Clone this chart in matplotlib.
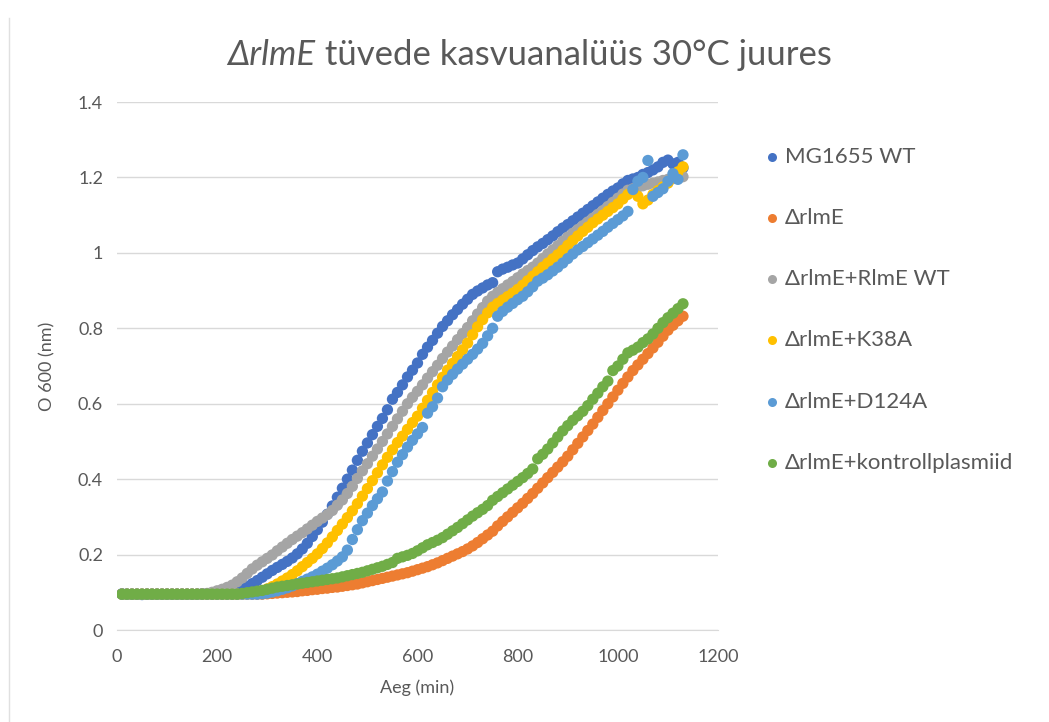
import matplotlib
matplotlib.use("Agg")
import matplotlib.pyplot as plt
from matplotlib.lines import Line2D

# Data: OD600 readings every 10 min
aeg = [10, 20, 30, 40, 50, 60, 70, 80, 90, 100,
       110, 120, 130, 140, 150, 160, 170, 180, 190, 200,
       210, 220, 230, 240, 250, 260, 270, 280, 290, 300,
       310, 320, 330, 340, 350, 360, 370, 380, 390, 400,
       410, 420, 430, 440, 450, 460, 470, 480, 490, 500,
       510, 520, 530, 540, 550, 560, 570, 580, 590, 600,
       610, 620, 630, 640, 650, 660, 670, 680, 690, 700,
       710, 720, 730, 740, 750, 760, 770, 780, 790, 800,
       810, 820, 830, 840, 850, 860, 870, 880, 890, 900,
       910, 920, 930, 940, 950, 960, 970, 980, 990, 1000,
       1010, 1020, 1030, 1040, 1050, 1060, 1070, 1080, 1090, 1100,
       1110, 1120, 1130]

mg1655_wt = [0.096, 0.095, 0.095, 0.095, 0.094, 0.095, 0.095, 0.095, 0.095, 0.095,
             0.095, 0.095, 0.095, 0.095, 0.095, 0.095, 0.096, 0.096, 0.096, 0.096,
             0.097, 0.099, 0.101, 0.104, 0.108, 0.115, 0.123, 0.131, 0.140, 0.149,
             0.158, 0.166, 0.174, 0.182, 0.191, 0.202, 0.215, 0.230, 0.248, 0.266,
             0.286, 0.307, 0.329, 0.352, 0.376, 0.400, 0.424, 0.450, 0.474, 0.496,
             0.518, 0.540, 0.561, 0.584, 0.612, 0.630, 0.650, 0.671, 0.689, 0.708,
             0.731, 0.750, 0.768, 0.787, 0.805, 0.820, 0.836, 0.850, 0.864, 0.877,
             0.890, 0.899, 0.907, 0.915, 0.921, 0.950, 0.957, 0.962, 0.968, 0.973,
             0.984, 0.995, 1.006, 1.016, 1.025, 1.035, 1.045, 1.056, 1.066, 1.075,
             1.085, 1.095, 1.105, 1.115, 1.125, 1.135, 1.145, 1.155, 1.164, 1.172,
             1.183, 1.192, 1.196, 1.200, 1.208, 1.213, 1.220, 1.228, 1.240, 1.246,
             1.236, 1.240, 1.225]

rlme = [0.095, 0.095, 0.095, 0.095, 0.095, 0.095, 0.095, 0.095, 0.095, 0.095,
        0.095, 0.095, 0.095, 0.095, 0.095, 0.095, 0.095, 0.095, 0.095, 0.095,
        0.095, 0.095, 0.095, 0.095, 0.095, 0.095, 0.095, 0.095, 0.095, 0.096,
        0.097, 0.098, 0.099, 0.100, 0.101, 0.102, 0.104, 0.105, 0.107, 0.108,
        0.110, 0.111, 0.113, 0.114, 0.116, 0.118, 0.120, 0.122, 0.125, 0.128,
        0.131, 0.134, 0.137, 0.140, 0.143, 0.146, 0.149, 0.152, 0.156, 0.160,
        0.164, 0.168, 0.173, 0.178, 0.184, 0.190, 0.196, 0.202, 0.208, 0.215,
        0.223, 0.232, 0.242, 0.252, 0.262, 0.276, 0.288, 0.300, 0.312, 0.324,
        0.336, 0.349, 0.362, 0.376, 0.390, 0.404, 0.418, 0.432, 0.446, 0.461,
        0.478, 0.495, 0.512, 0.529, 0.546, 0.564, 0.582, 0.600, 0.618, 0.636,
        0.654, 0.671, 0.688, 0.703, 0.718, 0.733, 0.748, 0.763, 0.779, 0.795,
        0.808, 0.820, 0.832]

rlme_wt = [0.095, 0.095, 0.095, 0.095, 0.095, 0.095, 0.095, 0.095, 0.095, 0.095,
           0.095, 0.095, 0.095, 0.095, 0.095, 0.095, 0.096, 0.097, 0.100, 0.104,
           0.108, 0.113, 0.119, 0.128, 0.138, 0.150, 0.162, 0.172, 0.181, 0.190,
           0.199, 0.210, 0.220, 0.230, 0.240, 0.249, 0.258, 0.268, 0.278, 0.288,
           0.297, 0.306, 0.317, 0.331, 0.345, 0.362, 0.381, 0.402, 0.422, 0.441,
           0.461, 0.480, 0.500, 0.520, 0.540, 0.560, 0.580, 0.600, 0.617, 0.633,
           0.650, 0.668, 0.685, 0.702, 0.720, 0.737, 0.753, 0.770, 0.786, 0.802,
           0.820, 0.838, 0.855, 0.872, 0.885, 0.895, 0.905, 0.915, 0.924, 0.934,
           0.944, 0.953, 0.962, 0.973, 0.985, 0.997, 1.008, 1.019, 1.031, 1.042,
           1.052, 1.062, 1.072, 1.082, 1.092, 1.102, 1.112, 1.123, 1.134, 1.145,
           1.156, 1.166, 1.170, 1.174, 1.178, 1.182, 1.185, 1.188, 1.192, 1.195,
           1.197, 1.200, 1.202]

k38a = [0.095, 0.095, 0.095, 0.095, 0.095, 0.095, 0.095, 0.095, 0.095, 0.095,
        0.095, 0.095, 0.095, 0.095, 0.095, 0.095, 0.095, 0.095, 0.095, 0.095,
        0.095, 0.095, 0.095, 0.095, 0.095, 0.096, 0.097, 0.100, 0.104, 0.109,
        0.115, 0.122, 0.130, 0.138, 0.147, 0.157, 0.168, 0.179, 0.190, 0.202,
        0.216, 0.231, 0.247, 0.264, 0.281, 0.298, 0.316, 0.335, 0.355, 0.375,
        0.396, 0.417, 0.438, 0.458, 0.478, 0.497, 0.514, 0.532, 0.550, 0.567,
        0.588, 0.609, 0.630, 0.650, 0.670, 0.689, 0.707, 0.725, 0.743, 0.761,
        0.783, 0.804, 0.823, 0.841, 0.856, 0.866, 0.875, 0.884, 0.893, 0.903,
        0.914, 0.926, 0.938, 0.950, 0.962, 0.973, 0.984, 0.995, 1.007, 1.020,
        1.033, 1.045, 1.057, 1.068, 1.080, 1.090, 1.100, 1.110, 1.120, 1.130,
        1.143, 1.155, 1.165, 1.150, 1.130, 1.140, 1.155, 1.165, 1.175, 1.185,
        1.200, 1.215, 1.228]

d124a = [0.095, 0.095, 0.095, 0.095, 0.095, 0.095, 0.095, 0.095, 0.095, 0.095,
         0.095, 0.095, 0.095, 0.095, 0.095, 0.095, 0.095, 0.095, 0.095, 0.095,
         0.095, 0.095, 0.095, 0.095, 0.095, 0.095, 0.095, 0.095, 0.096, 0.098,
         0.101, 0.104, 0.108, 0.112, 0.117, 0.123, 0.129, 0.135, 0.141, 0.148,
         0.156, 0.164, 0.173, 0.183, 0.194, 0.212, 0.240, 0.266, 0.290, 0.310,
         0.330, 0.348, 0.366, 0.395, 0.420, 0.445, 0.465, 0.485, 0.503, 0.520,
         0.537, 0.575, 0.592, 0.615, 0.645, 0.663, 0.678, 0.692, 0.705, 0.718,
         0.731, 0.745, 0.760, 0.780, 0.800, 0.832, 0.845, 0.856, 0.866, 0.876,
         0.885, 0.897, 0.910, 0.925, 0.933, 0.942, 0.952, 0.962, 0.973, 0.985,
         0.997, 1.008, 1.017, 1.027, 1.037, 1.047, 1.057, 1.068, 1.078, 1.088,
         1.098, 1.110, 1.168, 1.190, 1.200, 1.245, 1.150, 1.160, 1.170, 1.190,
         1.210, 1.195, 1.260]

kontroll = [0.095, 0.095, 0.095, 0.095, 0.095, 0.095, 0.095, 0.095, 0.095, 0.095,
            0.095, 0.095, 0.095, 0.095, 0.095, 0.095, 0.095, 0.095, 0.095, 0.095,
            0.095, 0.095, 0.095, 0.095, 0.097, 0.099, 0.101, 0.103, 0.105, 0.108,
            0.111, 0.114, 0.116, 0.118, 0.120, 0.122, 0.124, 0.126, 0.128, 0.130,
            0.132, 0.134, 0.136, 0.138, 0.141, 0.144, 0.147, 0.150, 0.153, 0.157,
            0.161, 0.165, 0.169, 0.174, 0.179, 0.190, 0.194, 0.198, 0.203, 0.210,
            0.218, 0.226, 0.232, 0.238, 0.245, 0.254, 0.263, 0.272, 0.282, 0.292,
            0.302, 0.311, 0.320, 0.330, 0.344, 0.354, 0.364, 0.374, 0.384, 0.394,
            0.404, 0.415, 0.427, 0.454, 0.466, 0.480, 0.496, 0.512, 0.528, 0.542,
            0.556, 0.568, 0.580, 0.595, 0.612, 0.628, 0.645, 0.660, 0.688, 0.700,
            0.718, 0.735, 0.742, 0.750, 0.762, 0.772, 0.785, 0.800, 0.815, 0.828,
            0.840, 0.852, 0.865]

series_names = ["MG1655 WT", "\u0394rlmE", "\u0394rlmE+RlmE WT", "\u0394rlmE+K38A",
                "\u0394rlmE+D124A", "\u0394rlmE+kontrollplasmiid"]
series_values = [mg1655_wt, rlme, rlme_wt, k38a, d124a, kontroll]
colors = ["#4472C4", "#ED7D31", "#A5A5A5", "#FFC000", "#5B9BD5", "#70AD47"]

y_ticks = [0, 0.2, 0.4, 0.6, 0.8, 1.0, 1.2, 1.4]
y_labels = ["0", "0.2", "0.4", "0.6", "0.8", "1", "1.2", "1.4"]
x_ticks = [0, 200, 400, 600, 800, 1000, 1200]

plt.rcParams['font.family'] = ['Lato', 'DejaVu Sans']
txt_color = "#595959"

fig = plt.figure(figsize=(10.49, 7.22), dpi=100)
ax = fig.add_axes([0.1115, 0.1274, 0.5730, 0.7313])

for name, vals, col in zip(series_names, series_values, colors):
    ax.scatter(aeg, vals, s=66, color=col, edgecolors='none', label=name, zorder=3)

ax.set_xlim(0, 1200)
ax.set_ylim(0, 1.4)
ax.set_yticks(y_ticks)
ax.set_yticklabels(y_labels)
ax.set_xticks(x_ticks)
ax.grid(axis='y', color='#D9D9D9', linewidth=1)
ax.set_axisbelow(True)
for s in ['top', 'right', 'left']:
    ax.spines[s].set_visible(False)
ax.spines['bottom'].set_color('#D9D9D9')
ax.tick_params(axis='y', length=0, labelsize=13, labelcolor=txt_color, pad=10)
ax.tick_params(axis='x', length=0, labelsize=13, labelcolor=txt_color, pad=14)
ax.set_xlabel("Aeg (min)", fontsize=13, color=txt_color, labelpad=10)
ax.set_ylabel("O 600 (nm)", fontsize=13, color=txt_color, labelpad=16)

# title with italic strain name
t1 = fig.text(0.217, 0.902, "\u0394rlmE", fontsize=25, style='italic',
              color=txt_color, va='bottom', ha='left')
ax.annotate(" t\u00fcvede kasvuanal\u00fc\u00fcs 30\u00b0C juures", xy=(1, 0), xycoords=t1,
            fontsize=25, color=txt_color, va='bottom', ha='left',
            annotation_clip=False)

# legend drawn entry by entry
leg_y = [157, 218, 279, 340, 402, 463]
for name, col, yp in zip(series_names, colors, leg_y):
    fig.add_artist(Line2D([772 / 1049], [1 - yp / 722], marker='o', markersize=6.5,
                          markerfacecolor=col, markeredgecolor='none', linestyle='none'))
    fig.text(785 / 1049, 1 - yp / 722, name, fontsize=16, color=txt_color,
             va='center', ha='left')

# faint chart border at left
fig.add_artist(Line2D([0.009, 0.009], [0.0, 0.975], color='#E0E0E0', linewidth=1))

fig.savefig("out.png", dpi=100)
